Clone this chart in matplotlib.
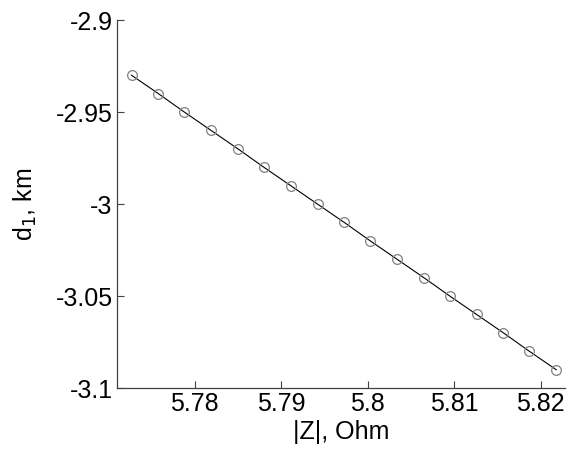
import matplotlib
matplotlib.use("Agg")
import matplotlib.pyplot as plt

# |Z| values (Ohm) and d1 (km)
zAbs = [5.7727, 5.7758, 5.7788, 5.7819, 5.7850, 5.7880, 5.7911, 5.7942, 5.7973,
        5.8003, 5.8034, 5.8065, 5.8095, 5.8126, 5.8157, 5.8187, 5.8218]
d1 = [-2.93, -2.94, -2.95, -2.96, -2.97, -2.98, -2.99, -3.00, -3.01,
      -3.02, -3.03, -3.04, -3.05, -3.06, -3.07, -3.08, -3.09]
xTicks = [5.78, 5.79, 5.80, 5.81, 5.82]
xTickLabels = ['5.78', '5.79', '5.8', '5.81', '5.82']
yTicks = [-3.1, -3.05, -3.0, -2.95, -2.9]
yTickLabels = ['-3.1', '-3.05', '-3', '-2.95', '-2.9']

plt.rcParams['font.family'] = ['Liberation Sans', 'DejaVu Sans']
fig = plt.figure(figsize=(5.7, 4.55), dpi=100)
ax = fig.add_axes([0.205, 0.147, 0.786, 0.809])

ax.plot(zAbs, d1, '-', color='black', linewidth=0.8)
ax.plot(zAbs, d1, 'o', markerfacecolor='none', markeredgecolor='#808080',
        markersize=7, markeredgewidth=0.9)

ax.set_xlim(5.7710, 5.8228)
ax.set_ylim(-3.1, -2.9)
ax.set_xticks(xTicks)
ax.set_xticklabels(xTickLabels)
ax.set_yticks(yTicks)
ax.set_yticklabels(yTickLabels)
ax.tick_params(direction='in', length=5, width=0.8, color='#404040',
               labelsize=18, pad=3)
for side in ['top', 'right']:
    ax.spines[side].set_visible(False)
for side in ['left', 'bottom']:
    ax.spines[side].set_color('#404040')
    ax.spines[side].set_linewidth(0.9)

ax.set_xlabel('|Z|, Ohm', fontsize=18, labelpad=3)
ax.set_ylabel('d$_1$, km', fontsize=18, labelpad=12)

fig.savefig('out.png', dpi=100)
